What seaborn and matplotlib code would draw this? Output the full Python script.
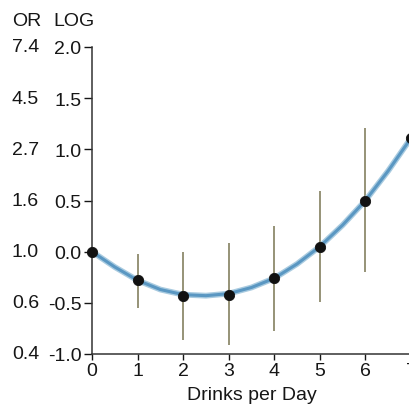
import numpy as np
import pandas as pd
import matplotlib
matplotlib.use("Agg")
import matplotlib.pyplot as plt
import matplotlib.transforms as mtransforms
import seaborn as sns

# ---- data ----
drinks = [0, 1, 2, 3, 4, 5, 6, 7]
log_or = [0.0, -0.28, -0.43, -0.42, -0.26, 0.05, 0.50, 1.11]
ci_low = [0.0, -0.55, -0.86, -0.91, -0.78, -0.49, -0.20, np.nan]
ci_high = [0.0, -0.02, 0.00, 0.08, 0.25, 0.59, 1.21, np.nan]

fit_x = [0, 0.5, 1, 1.5, 2, 2.5, 3, 3.5, 4, 4.5, 5, 5.5, 6, 6.5, 7]
fit_y = [0.0, -0.15, -0.28, -0.37, -0.42, -0.43, -0.41, -0.35, -0.26, -0.12,
         0.05, 0.26, 0.50, 0.79, 1.11]

log_ticks = [-1.0, -0.5, 0.0, 0.5, 1.0, 1.5, 2.0]
log_labels = ["-1.0", "-0.5", "0.0", "0.5", "1.0", "1.5", "2.0"]
or_labels = ["0.4", "0.6", "1.0", "1.6", "2.7", "4.5", "7.4"]
x_ticks = [0, 1, 2, 3, 4, 5, 6, 7]

sns.set_style("ticks")
plt.rcParams["font.family"] = ["Liberation Sans", "DejaVu Sans"]
plt.rcParams["axes.unicode_minus"] = False

pts = pd.DataFrame({"drinks": drinks, "log_or": log_or,
                    "lo": ci_low, "hi": ci_high})
fit = pd.DataFrame({"x": fit_x, "y": fit_y})

fig = plt.figure(figsize=(4.1, 4.1), dpi=100)
ax = fig.add_axes([92 / 410, 55 / 410, 319 / 410, 307 / 410])

fs = 14
tc = "#161616"

# error bars
eb = pts.dropna()
ax.vlines(eb["drinks"], eb["lo"], eb["hi"], color="#8e8a6c", lw=1.3, zorder=1)

# fitted curve
sns.lineplot(data=fit, x="x", y="y", ax=ax, color="#a9cbe0", lw=4.2,
             zorder=2, clip_on=False)
sns.lineplot(data=fit, x="x", y="y", ax=ax, color="#5a97c2", lw=2.2,
             zorder=3, clip_on=False)

# points
sns.scatterplot(data=pts, x="drinks", y="log_or", ax=ax, color="#111111",
                s=55, edgecolor="#111111", zorder=4, clip_on=False)

ax.set_xlim(0, 7)
ax.set_ylim(-1.0, 2.0)
ax.set_xticks(x_ticks)
ax.set_xticklabels([str(v) for v in x_ticks], fontsize=fs)
ax.set_yticks(log_ticks)
ax.set_yticklabels(log_labels, fontsize=fs)
ax.tick_params(axis="y", length=6, width=1, pad=1.5, colors=tc)
ax.tick_params(axis="x", length=4, width=1, pad=2, colors=tc)
ax.set_xlabel("Drinks per Day", fontsize=fs, labelpad=5, color=tc)
ax.set_ylabel("")

for s in ["top", "right"]:
    ax.spines[s].set_visible(False)
for s in ["left", "bottom"]:
    ax.spines[s].set_linewidth(1.1)
    ax.spines[s].set_color("#333333")

# OR column
trans = mtransforms.blended_transform_factory(fig.transFigure, ax.transData)
for yv, lab in zip(log_ticks, or_labels):
    ax.text(12 / 410, yv, lab, transform=trans, ha="left", va="center",
            fontsize=fs, color=tc, clip_on=False)

fig.text(12 / 410, 1 - 22 / 410, "OR", ha="left", va="center", fontsize=fs,
         color=tc)
fig.text(53 / 410, 1 - 22 / 410, "LOG", ha="left", va="center", fontsize=fs,
         color=tc)

fig.savefig("out.png", dpi=100)
